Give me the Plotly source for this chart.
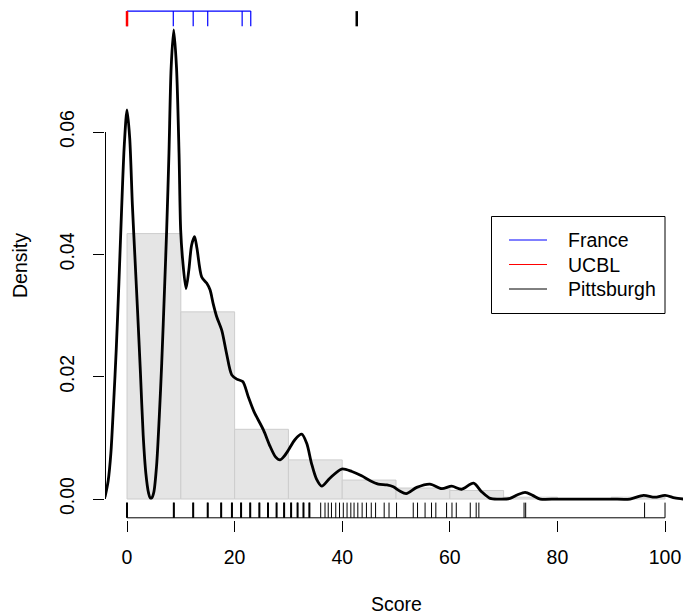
import plotly.graph_objects as go

# ---------------- data ----------------
bin_edges = [0, 10, 20, 30, 40, 50, 60, 70, 80, 90, 100]
hist_density = [0.0434, 0.0306, 0.0114, 0.0064, 0.0031, 0.0018, 0.0014, 0.0003, 0.0, 0.0003]

dens_x = [-4.1, -3.5, -3.0, -2.5, -2.0, -1.5, -1.0, -0.5, 0.0, 0.5, 1.0, 1.5, 2.0, 2.5,
          3.0, 3.5, 4.0, 4.3, 4.6, 5.0, 5.5, 6.0, 6.45, 7.0, 7.37, 7.8, 8.2, 8.68,
          9.2, 9.67, 9.97, 10.35, 10.97, 11.5, 12.0, 12.55, 13.0, 13.88, 14.8, 15.43,
          16.0, 16.67, 17.6, 18.5, 19.46, 20.4, 21.5, 22.55, 23.6, 25.35, 26.6, 27.6,
          28.44, 29.2, 30.0, 31.2, 32.47, 33.4, 34.3, 35.2, 36.2, 37.7, 39.9, 41.8,
          43.6, 45.2, 46.7, 48.3, 49.5, 50.7, 51.9, 53.85, 56.3, 58.5, 60.35, 62.2,
          64.4, 65.9, 67.5, 69.5, 71.2, 72.6, 74.0, 75.4, 76.8, 80.0, 85.0, 90.0,
          93.5, 96.0, 98.1, 100.0, 101.8, 103.4]
dens_y = [0.0003, 0.003, 0.0075, 0.0155, 0.0245, 0.0355, 0.0475, 0.058, 0.0636, 0.059,
          0.048, 0.039, 0.030, 0.0205, 0.0105, 0.0042, 0.0010, 0.0002, 0.0002, 0.0012,
          0.0055, 0.0135, 0.0222, 0.035, 0.044, 0.0566, 0.0705, 0.0767, 0.0705, 0.0565,
          0.044, 0.039, 0.0344, 0.0375, 0.0415, 0.0429, 0.041, 0.0363, 0.0353, 0.0342,
          0.032, 0.0298, 0.0276, 0.0238, 0.0203, 0.0196, 0.0192, 0.0167, 0.0143, 0.0113,
          0.0086, 0.0069, 0.0064, 0.0070, 0.0080, 0.0097, 0.0106, 0.0091, 0.0058, 0.0033,
          0.0021, 0.0034, 0.0049, 0.0045, 0.0038, 0.0030, 0.00245, 0.0023, 0.0020, 0.0013,
          0.0009, 0.0019, 0.00245, 0.0017, 0.0021, 0.0016, 0.0026, 0.0012, 0.0001, 0.0,
          0.0001, 0.0007, 0.0011, 0.0006, 0.0, 0.0, 0.0, 0.0, 0.0, 0.0006, 0.0003, 0.0006,
          0.0002, 0.0]

france = [0.0, 8.6, 12.3, 15.0, 21.4, 23.0]
ucbl = [0.0]
top_black = [42.7]
pitt_heavy = [0.0, 8.7, 12.3, 15.0, 17.5, 19.5, 21.2, 22.9, 24.6, 26.2, 27.8, 29.2,
              30.5, 31.7, 32.8, 33.9]
pitt_light = [36.0, 36.8, 37.4, 38.0, 38.8, 39.5, 40.2, 40.9, 41.6, 42.2, 42.9, 43.7,
              44.5, 45.4, 46.2, 47.8, 48.7, 50.1, 53.2, 54.0, 55.4, 56.6, 57.4, 59.4,
              60.4, 61.2, 63.8, 64.9, 65.4, 73.8, 74.1, 96.2, 100.0]

x_ticks = [0, 20, 40, 60, 80, 100]
y_ticks = [0.00, 0.02, 0.04, 0.06]
y_tick_labels = ["0.00", "0.02", "0.04", "0.06"]

legend_labels = ["France", "UCBL", "Pittsburgh"]
legend_colors = ["#0000FF", "#FF0000", "#000000"]

# ---------------- layout geometry ----------------
FW, FH = 683, 614
L, R, T, B = 105, 0, 10, 94
PW, PH = FW - L - R, FH - T - B
FONT = "Liberation Sans, Arial, Helvetica, sans-serif"
FS = 19.5

all_pts = pitt_heavy + pitt_light + france + ucbl
xmin, xmax = min(all_pts), max(all_pts)
usr_x = [xmin - 0.04 * (xmax - xmin), xmax + 0.04 * (xmax - xmin)]
ymax = max(dens_y)
usr_y = [-0.04 * ymax, 1.04 * ymax]

xpx = 5.38            # pixels per x unit
ypx = 6116.7          # pixels per y unit
x_range = [usr_x[0] - 0.5 / xpx, usr_x[0] - 0.5 / xpx + PW / xpx]
y_lo = usr_y[0] - 2.2 / ypx
y_range = [y_lo, y_lo + PH / ypx]

rug_len = 0.03 * (usr_y[1] - usr_y[0])


def px2x(px):
    return (px - L) / PW


def px2y(py):
    return 1 - (py - T) / PH


def rug(vals, base, direction, color, width, with_line):
    xs, ys = [], []
    for v in vals:
        xs += [v, v, None]
        ys += [base, base + direction * rug_len, None]
    if with_line:
        xs += [min(vals), max(vals), None]
        ys += [base, base, None]
    return go.Scatter(x=xs, y=ys, mode="lines", line=dict(color=color, width=width),
                      hoverinfo="skip", showlegend=False)


fig = go.Figure()

centers = [(a + b) / 2 for a, b in zip(bin_edges[:-1], bin_edges[1:])]
widths = [b - a for a, b in zip(bin_edges[:-1], bin_edges[1:])]
fig.add_trace(go.Bar(x=centers, y=hist_density, width=widths,
                     marker=dict(color="#E5E5E5", line=dict(color="#CDCDCD", width=1)),
                     showlegend=False, hoverinfo="skip"))

fig.add_trace(go.Scatter(x=dens_x, y=dens_y, mode="lines",
                         line=dict(color="black", width=2.8, shape="spline", smoothing=0.8),
                         showlegend=False))

# bottom rug (Pittsburgh)
fig.add_trace(rug(pitt_heavy + pitt_light, usr_y[0], +1, "black", 1, True))
fig.add_trace(rug(pitt_heavy, usr_y[0], +1, "black", 2, False))
# top rugs
fig.add_trace(rug(france, usr_y[1], -1, "#0000FF", 1.2, True))
fig.add_trace(rug(ucbl, usr_y[1], -1, "#FF0000", 2.5, False))
fig.add_trace(rug(top_black, usr_y[1], -1, "black", 2.5, False))

# y axis line (from first to last tick)
fig.add_trace(go.Scatter(x=[usr_x[0], usr_x[0]], y=[y_ticks[0], y_ticks[-1]], mode="lines",
                         line=dict(color="black", width=1), showlegend=False, hoverinfo="skip"))

shapes = []
annotations = []
# legend box
lx0, lx1, ly0, ly1 = 491.5, 665, 216.5, 313.5
shapes.append(dict(type="rect", xref="paper", yref="paper", x0=px2x(lx0), x1=px2x(lx1),
                   y0=px2y(ly1), y1=px2y(ly0), line=dict(color="black", width=1),
                   fillcolor="white", layer="above"))
for i, (lab, col) in enumerate(zip(legend_labels, legend_colors)):
    yy = 240 + i * 24.5
    shapes.append(dict(type="line", xref="paper", yref="paper", x0=px2x(509), x1=px2x(547),
                       y0=px2y(yy), y1=px2y(yy), line=dict(color=col, width=1)))
    annotations.append(dict(text=lab, xref="paper", yref="paper", x=px2x(566), y=px2y(yy),
                            xanchor="left", yanchor="middle", showarrow=False,
                            font=dict(family=FONT, size=FS, color="black")))

# axis titles
annotations.append(dict(text="Score", xref="paper", yref="paper", x=px2x(396), y=px2y(604),
                        xanchor="center", yanchor="middle", showarrow=False,
                        font=dict(family=FONT, size=FS, color="black")))
annotations.append(dict(text="Density", xref="paper", yref="paper", x=px2x(20), y=px2y(266),
                        xanchor="center", yanchor="middle", showarrow=False, textangle=-90,
                        font=dict(family=FONT, size=FS, color="black")))

fig.update_layout(
    width=FW, height=FH,
    margin=dict(l=L, r=R, t=T, b=B, pad=0),
    paper_bgcolor="white", plot_bgcolor="white",
    showlegend=False,
    shapes=shapes, annotations=annotations,
    font=dict(family=FONT, size=FS, color="black"),
    xaxis=dict(range=x_range, tickvals=x_ticks, ticktext=[str(v) for v in x_ticks],
               ticks="outside", ticklen=11, tickwidth=1, tickcolor="black",
               showgrid=False, zeroline=False, showline=False,
               tickfont=dict(family=FONT, size=FS, color="black"), ticklabelstandoff=9),
    yaxis=dict(range=y_range, tickvals=y_ticks, ticktext=y_tick_labels,
               ticks="outside", ticklen=11, tickwidth=1, tickcolor="black",
               showgrid=False, zeroline=False, showline=False, tickangle=-90,
               tickfont=dict(family=FONT, size=FS, color="black"), ticklabelstandoff=11),
)

fig.write_html("out.html", config={"displayModeBar": False},
               post_script="document.body.style.margin='0px';")
